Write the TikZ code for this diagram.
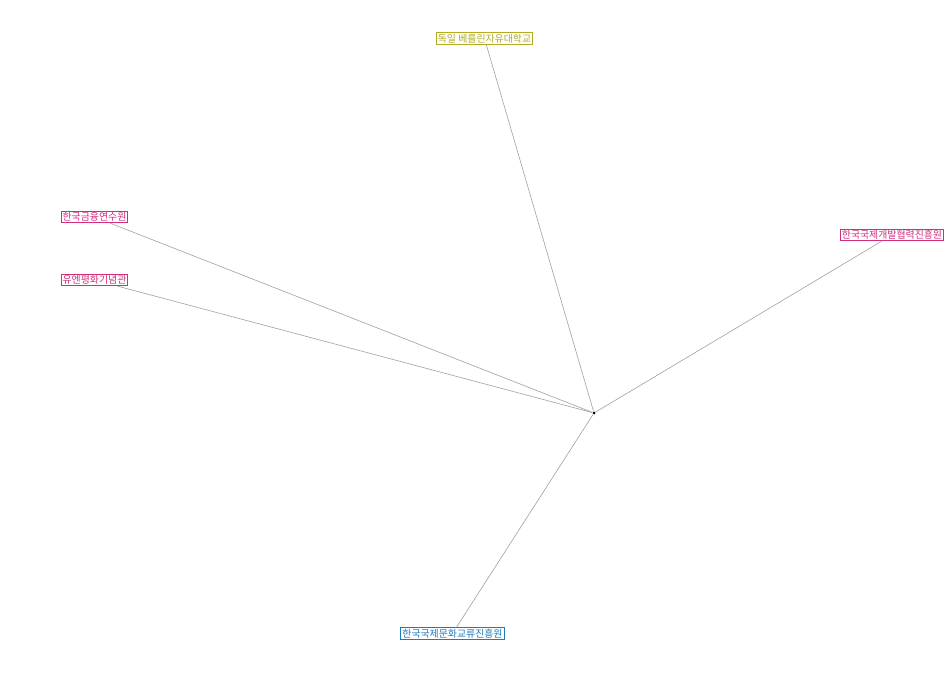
\documentclass[tikz,border=0pt]{standalone}
\usepackage{fontspec}
\newfontfamily\cjk{Noto Sans CJK KR}
\definecolor{olivec}{HTML}{B3AC22}
\definecolor{pinkc}{HTML}{D12F7E}
\definecolor{bluec}{HTML}{1A7BBF}
\definecolor{edgec}{HTML}{A0A0A0}
\begin{document}
\begin{tikzpicture}[x=1pt,y=-1pt,
  lbl/.style={draw=#1, text=#1, fill=white, font=\cjk\fontsize{9.9}{11}\selectfont, inner xsep=1.5pt, inner ysep=1.3pt, line width=0.9pt},
  link/.style={draw=edgec, line width=0.6pt}]
\useasboundingbox (0,0) rectangle (950,688);
\node[circle, fill=black, inner sep=0pt, minimum size=3pt] (hub) at (594,413) {};
\node[lbl=olivec] (berlin) at (484.5,38.5) {독일 베를린자유대학교};
\node[lbl=pinkc] (kbi) at (94.5,217) {한국금융연수원};
\node[lbl=pinkc] (un) at (94.5,280) {유엔평화기념관};
\node[lbl=pinkc] (koica) at (892,235) {한국국제개발협력진흥원};
\node[lbl=bluec] (kofice) at (452.5,633.5) {한국국제문화교류진흥원};
\draw[link] (hub) -- (berlin);
\draw[link] (hub) -- (kbi);
\draw[link] (hub) -- (un);
\draw[link] (hub) -- (koica);
\draw[link] (hub) -- (kofice);
\end{tikzpicture}
\end{document}
